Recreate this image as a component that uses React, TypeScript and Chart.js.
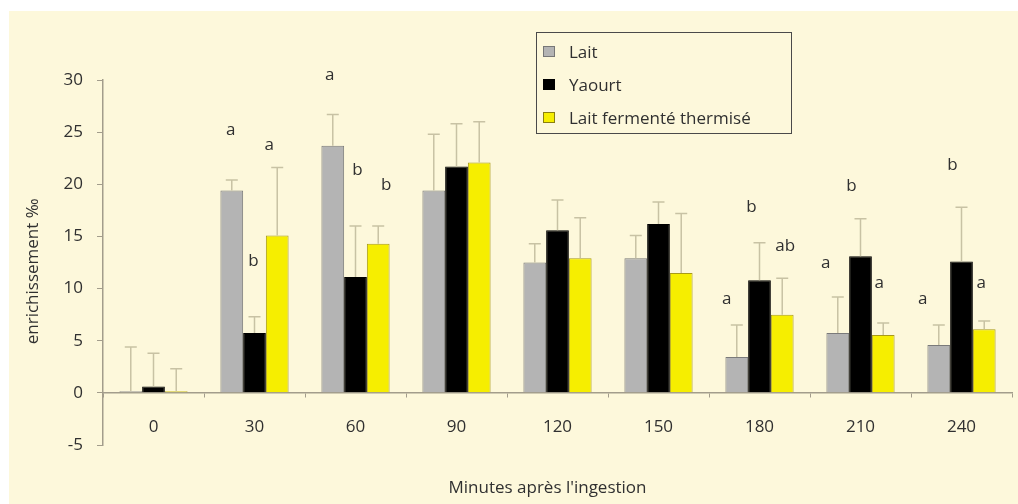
import React, { useEffect, useRef } from "react";
import { Chart, registerables } from "chart.js";

Chart.register(...registerables);

const categories = ["0", "30", "60", "90", "120", "150", "180", "210", "240"];
const seriesNames = ["Lait", "Yaourt", "Lait fermenté thermisé"];

const lait = [0.15, 19.4, 23.7, 19.4, 12.5, 12.9, 3.45, 5.75, 4.6];
const laitErr = [4.25, 1.0, 3.0, 5.4, 1.8, 2.2, 3.05, 3.45, 1.9];
const yaourt = [0.6, 5.75, 11.1, 21.7, 15.6, 16.2, 10.8, 13.1, 12.6];
const yaourtErr = [3.2, 1.55, 4.9, 4.1, 2.9, 2.1, 3.6, 3.6, 5.2];
const lft = [0.15, 15.1, 14.3, 22.1, 12.9, 11.5, 7.5, 5.55, 6.1];
const lftErr = [2.15, 6.5, 1.7, 3.9, 3.9, 5.7, 3.5, 1.15, 0.8];

// significance letters: [category index, series index, text, height in axis units]
const letters: [number, number, string, number][] = [
  [1, 0, "a", 25.2], [1, 1, "b", 12.6], [1, 2, "a", 23.8],
  [2, 0, "a", 30.5], [2, 1, "b", 21.4], [2, 2, "b", 19.9],
  [6, 0, "a", 9.0], [6, 1, "b", 17.8], [6, 2, "ab", 14.1],
  [7, 0, "a", 12.4], [7, 1, "b", 19.8], [7, 2, "a", 10.5],
  [8, 0, "a", 9.0], [8, 1, "b", 21.8], [8, 2, "a", 10.5],
];
// horizontal nudges of the letters (style)
const letterDx = [-1, -1, -8, -3, 2, 8, -10, -8, 3, -12, -9, -4, -16, -9, -3];

const yTicksMin = -5;
const yTicksMax = 30;
const yStep = 5;

const FONT = "'Open Sans', 'DejaVu Sans', sans-serif";
const TEXT = "#303030";
const AXIS = "#a39d8c";
const ERR = "#c8c2a4";
const BG = "#fdf8db";
const fills = ["#b4b4b4", "#000000", "#f6ee00"];
const borders = ["#7a7a7a", "#000000", "#a89a18"];

const errs = [laitErr, yaourtErr, lftErr];

const errorBars = {
  id: "errorBars",
  afterDatasetsDraw(chart: any) {
    const ctx = chart.ctx;
    const y = chart.scales.y;
    ctx.save();
    ctx.strokeStyle = ERR;
    ctx.lineWidth = 1.5;
    chart.data.datasets.forEach((ds: any, di: number) => {
      const meta = chart.getDatasetMeta(di);
      meta.data.forEach((bar: any, i: number) => {
        const v = ds.data[i];
        const top = y.getPixelForValue(v + errs[di][i]);
        const base = y.getPixelForValue(v);
        ctx.beginPath();
        ctx.moveTo(bar.x, base);
        ctx.lineTo(bar.x, top);
        ctx.moveTo(bar.x - 6, top);
        ctx.lineTo(bar.x + 6, top);
        ctx.stroke();
      });
    });
    ctx.restore();
  },
};

const lettersPlugin = {
  id: "letters",
  afterDatasetsDraw(chart: any) {
    const ctx = chart.ctx;
    const y = chart.scales.y;
    ctx.save();
    ctx.fillStyle = TEXT;
    ctx.font = `17px ${FONT}`;
    ctx.textAlign = "center";
    ctx.textBaseline = "middle";
    letters.forEach(([ci, si, t, v], k) => {
      const bar = chart.getDatasetMeta(si).data[ci];
      ctx.fillText(t, bar.x + letterDx[k], y.getPixelForValue(v));
    });
    ctx.restore();
  },
};

const xTitle = {
  id: "xTitle",
  afterDraw(chart: any) {
    const ctx = chart.ctx;
    const a = chart.chartArea;
    ctx.save();
    ctx.fillStyle = TEXT;
    ctx.font = `17px ${FONT}`;
    ctx.textAlign = "center";
    ctx.textBaseline = "middle";
    ctx.fillText("Minutes après l'ingestion", (a.left + a.right) / 2 - 10, 477);
    ctx.restore();
  },
};

export default function App() {
  const ref = useRef<HTMLCanvasElement>(null);
  useEffect(() => {
    const data = [lait, yaourt, lft];
    const chart = new Chart(ref.current as HTMLCanvasElement, {
      type: "bar",
      data: {
        labels: categories,
        datasets: seriesNames.map((n, i) => ({
          label: n,
          data: data[i],
          backgroundColor: fills[i],
          borderColor: borders[i],
          borderWidth: 1,
          categoryPercentage: 0.675,
          barPercentage: 1,
        })),
      },
      options: {
        animation: false,
        responsive: false,
        layout: { padding: { left: 0, right: 6, top: 69, bottom: 59 } },
        plugins: { legend: { display: false }, tooltip: { enabled: false } },
        scales: {
          x: {
            position: { y: 0 } as any,
            grid: { display: true, drawOnChartArea: false, tickLength: 4, color: AXIS, offset: true },
            border: { display: true, color: AXIS, width: 1.5 },
            ticks: { color: TEXT, font: { family: FONT, size: 17 }, padding: 20 },
          },
          y: {
            min: yTicksMin,
            max: yTicksMax,
            afterFit(s: any) {
              s.width = 94;
            },
            ticks: { stepSize: yStep, color: TEXT, font: { family: FONT, size: 17 }, padding: 14 },
            grid: { display: true, drawOnChartArea: false, tickLength: 6, color: AXIS },
            border: { display: true, color: AXIS, width: 1.5 },
            title: {
              display: true,
              text: "enrichissement ‰    ",
              color: TEXT,
              font: { family: FONT, size: 17 },
              padding: { top: 14, bottom: 0 },
            },
          },
        },
      },
      plugins: [errorBars, lettersPlugin, xTitle],
    });
    return () => chart.destroy();
  }, []);

  const legendRow = (i: number) => (
    <div key={i} style={{ display: "flex", alignItems: "center", height: 33 }}>
      <div
        style={{
          width: 10,
          height: 9,
          background: fills[i],
          border: `1.5px solid ${i === 1 ? "#000" : i === 0 ? "#777" : "#8a7f10"}`,
          marginLeft: 6,
          marginRight: 14,
        }}
      />
      <span style={{ fontFamily: FONT, fontSize: 17, color: TEXT, whiteSpace: "nowrap" }}>{seriesNames[i]}</span>
    </div>
  );

  return (
    <div style={{ position: "fixed", left: 9, top: 11, width: 1009, height: 493, background: BG, overflow: "hidden" }}>
      <canvas ref={ref} width={1009} height={493} style={{ display: "block" }} />
      <div
        style={{
          position: "absolute",
          left: 527,
          top: 21,
          width: 254,
          height: 98,
          border: "1.5px solid #4a4a4a",
          paddingTop: 2,
          boxSizing: "content-box",
        }}
      >
        {[0, 1, 2].map(legendRow)}
      </div>
    </div>
  );
}
